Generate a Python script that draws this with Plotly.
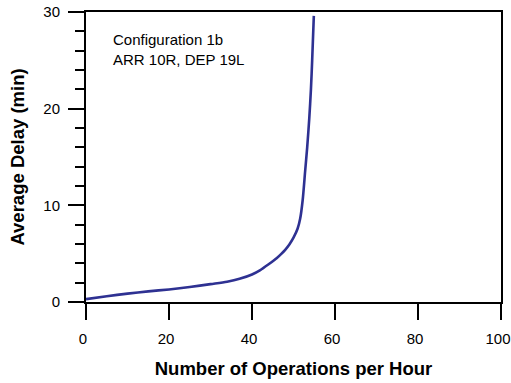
import plotly.graph_objects as go

ops_per_hour = [0, 5, 10, 15, 20, 25, 30, 34, 37, 40, 42, 44, 46, 47, 48, 49, 50, 51, 51.6, 52.2, 52.8, 53.3, 53.8, 54.2, 54.5, 54.9]
avg_delay = [0.3, 0.6, 0.87, 1.1, 1.3, 1.55, 1.85, 2.1, 2.4, 2.85, 3.3, 3.9, 4.55, 4.95, 5.4, 5.95, 6.65, 7.6, 8.6, 10.5, 13.5, 16, 19, 22, 25, 29.6]

x_ticks = [0, 20, 40, 60, 80, 100]
x_tick_labels = ["0", "20", "40", "60", "80", "100"]
y_ticks = [0, 10, 20, 30]

FONT = "Liberation Sans, Arial, sans-serif"

fig = go.Figure()
fig.add_trace(go.Scatter(
    x=ops_per_hour, y=avg_delay, mode="lines",
    line=dict(color="#2e3192", width=2.6, shape="spline", smoothing=0.8),
    showlegend=False, hoverinfo="skip",
))

fig.update_layout(
    width=511, height=383,
    margin=dict(l=86, r=10, t=12, b=81),
    paper_bgcolor="white", plot_bgcolor="white",
    font=dict(family=FONT, color="black", size=15),
    xaxis=dict(
        range=[0, 100.0001], tickvals=x_ticks, ticktext=x_tick_labels,
        ticks="outside", ticklen=16, tickwidth=2, tickcolor="black",
        showline=True, linecolor="black", linewidth=2, mirror=True,
        showgrid=False, zeroline=False, automargin=False,
        tickfont=dict(size=15, family=FONT),
        ticklabelstandoff=6, ticklabelshift=-3, ticklabeloverflow="allow",
        title=dict(text="<b>Number of Operations per Hour</b>", font=dict(size=18.5, family=FONT), standoff=16),
    ),
    yaxis=dict(
        range=[0, 30], tickvals=y_ticks, ticktext=[str(v) for v in y_ticks],
        ticks="outside", ticklen=16, tickwidth=2, tickcolor="black",
        minor=dict(dtick=2, ticks="outside", ticklen=9, tickwidth=2, tickcolor="black"),
        showline=True, linecolor="black", linewidth=2, mirror=True,
        showgrid=False, zeroline=False, automargin=False,
        tickfont=dict(size=15, family=FONT),
        ticklabelstandoff=5, ticklabeloverflow="allow",
        title=dict(text="<b>Average Delay (min)</b>", font=dict(size=18.5, family=FONT), standoff=14),
    ),
    annotations=[dict(
        x=0.06, y=0.942, xref="paper", yref="paper", xanchor="left", yanchor="top",
        text="Configuration 1b<br>ARR 10R, DEP 19L", showarrow=False, align="left",
        font=dict(size=15, family=FONT, color="black"),
    )],
)

fig.write_html("out.html")
